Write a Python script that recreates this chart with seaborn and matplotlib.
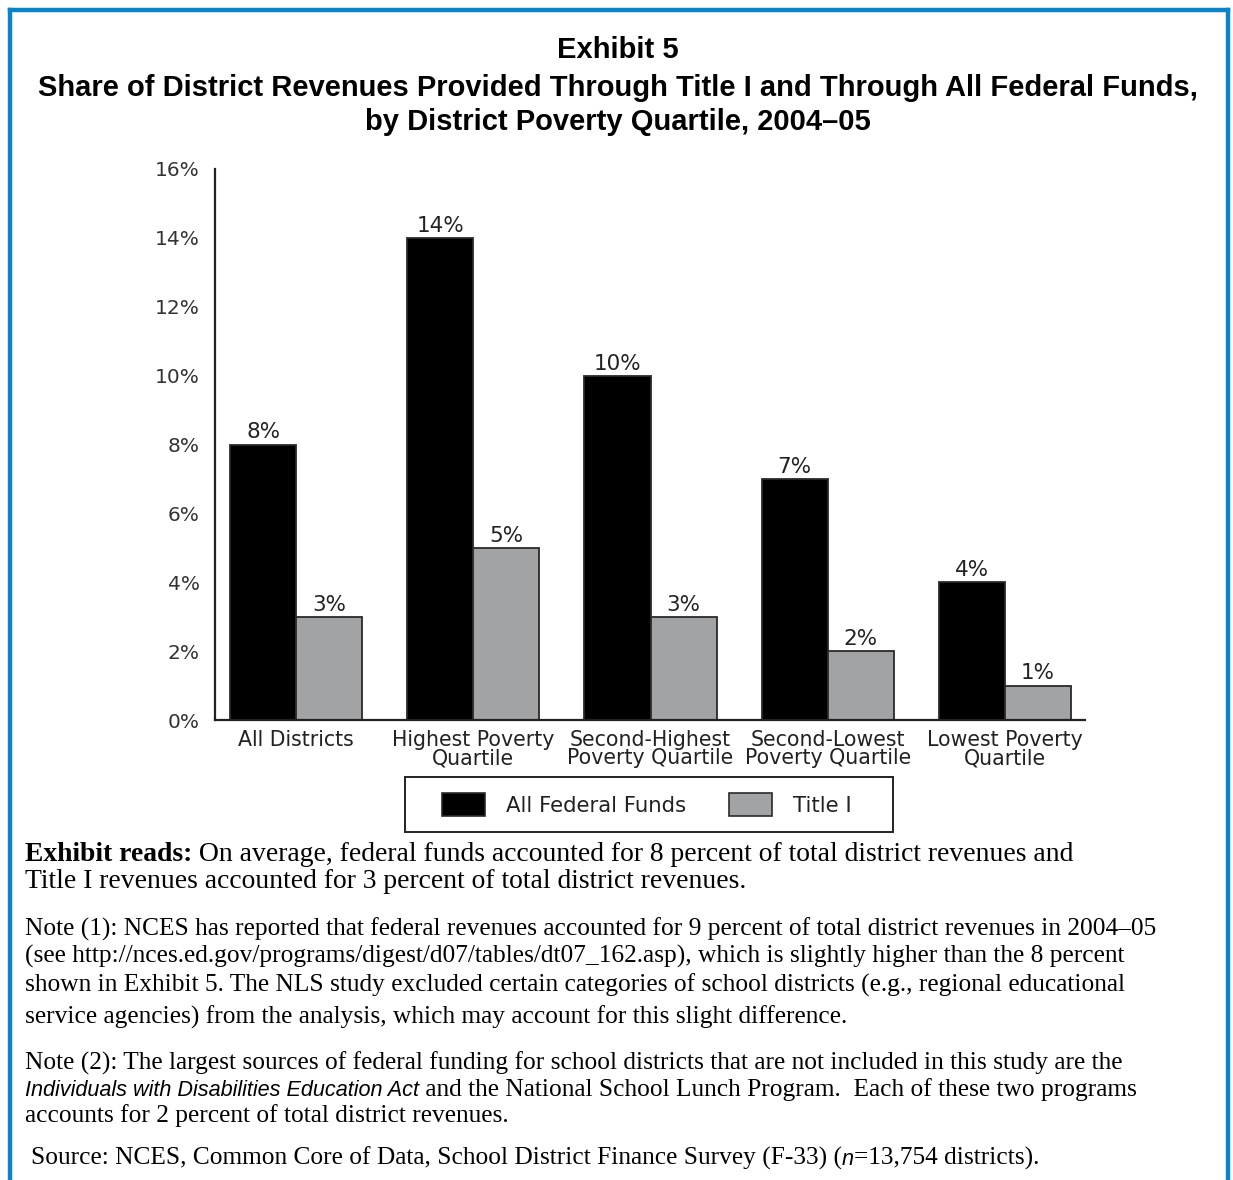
import matplotlib
matplotlib.use("Agg")
import matplotlib.pyplot as plt
import seaborn as sns
import pandas as pd
from matplotlib.patches import Patch, Rectangle
from matplotlib.lines import Line2D

# ---------------- data ----------------
categories = ["All Districts", "Highest Poverty\nQuartile", "Second-Highest\nPoverty Quartile",
              "Second-Lowest\nPoverty Quartile", "Lowest Poverty\nQuartile"]
series_names = ["All Federal Funds", "Title I"]
all_federal = [8, 14, 10, 7, 4]
title_one = [3, 5, 3, 2, 1]
y_ticks = [0, 2, 4, 6, 8, 10, 12, 14, 16]
y_tick_labels = ["0%", "2%", "4%", "6%", "8%", "10%", "12%", "14%", "16%"]

df = pd.DataFrame({
    "category": categories * 2,
    "series": [series_names[0]] * 5 + [series_names[1]] * 5,
    "value": all_federal + title_one,
})

W, H = 1233, 1180
sns.set_theme(style="white")
plt.rcParams["font.family"] = ["DejaVu Sans"]

fig = plt.figure(figsize=(W / 100, H / 100), dpi=100)
fig.patch.set_facecolor("white")

BLACK = "#000000"
GRAY = "#a2a3a5"
ax = fig.add_axes([215 / W, 1 - 720 / H, (1085 - 215) / W, (720 - 169) / H])
sns.barplot(data=df, x="category", y="value", hue="series", palette=[BLACK, GRAY],
            width=0.746, edgecolor="#2a2a2a", linewidth=1.3, legend=False, ax=ax,
            saturation=1)
ax.set_xlim(-0.458, 4.452)
ax.set_ylim(0, 16)
ax.set_yticks(y_ticks)
ax.set_yticklabels(y_tick_labels)
ax.set_xlabel("")
ax.set_ylabel("")
for s in ["top", "right"]:
    ax.spines[s].set_visible(False)
for s in ["left", "bottom"]:
    ax.spines[s].set_color("#222222")
    ax.spines[s].set_linewidth(1.6)
ax.tick_params(axis="y", length=0, pad=11, labelsize=14.5, labelcolor="#333333")
ax.tick_params(axis="x", length=0, pad=7, labelsize=14.8, labelcolor="#222222")
for lab in ax.get_xticklabels():
    lab.set_linespacing(0.92)
ax.grid(False)

for cont in ax.containers:
    ax.bar_label(cont, fmt="%d%%", padding=1.5, fontsize=15.5, color="#222222")

# legend
fig.add_artist(Rectangle((405 / W, 1 - 832 / H), (893 - 405) / W, (832 - 777) / H,
                         transform=fig.transFigure, fill=False, edgecolor="#222222",
                         linewidth=1.4))
handles = [Patch(facecolor=BLACK, edgecolor="#2a2a2a", linewidth=1.2),
           Patch(facecolor=GRAY, edgecolor="#2a2a2a", linewidth=1.2)]
fig.legend(handles, series_names, loc="center left", bbox_to_anchor=(442 / W, 1 - 804.5 / H),
           ncol=2, frameon=False, borderpad=0, borderaxespad=0, handlelength=2.0,
           handleheight=1.25, handletextpad=1.0, columnspacing=2.05, fontsize=15.3,
           labelcolor="#222222")

# title
title_kw = dict(family="Liberation Sans", weight="bold", fontsize=21, ha="center",
                va="baseline", color="black")
fig.text(618 / W, 1 - 58 / H, "Exhibit 5", **title_kw)
fig.text(618 / W, 1 - 95.5 / H,
         "Share of District Revenues Provided Through Title I and Through All Federal Funds,",
         **title_kw)
fig.text(618 / W, 1 - 130.5 / H, "by District Poverty Quartile, 2004–05", **title_kw)

# frame
BLUE = "#0a84c8"
for (x0, y0, x1, y1) in [(10, 10, 1228, 10), (10, 10, 10, 1180), (1228, 10, 1228, 1180)]:
    fig.add_artist(Line2D([x0 / W, x1 / W], [1 - y0 / H, 1 - y1 / H], transform=fig.transFigure,
                          color=BLUE, linewidth=3.2, solid_capstyle="projecting"))

# body text runs
fig.canvas.draw()
renderer = fig.canvas.get_renderer()


def text_width(s, props):
    t = fig.text(0, 0, "|" + s + "|", **props)
    w1 = t.get_window_extent(renderer).width
    t.remove()
    t = fig.text(0, 0, "||", **props)
    w0 = t.get_window_extent(renderer).width
    t.remove()
    return w1 - w0


def runs(x_px, base_px, parts):
    x = x_px
    for s, props in parts:
        fig.text(x / W, 1 - base_px / H, s, va="baseline", ha="left", color="black", **props)
        x += text_width(s, props)


SERIF = dict(family="Liberation Serif", fontsize=19.9)
SERIF_B = dict(family="Liberation Serif", fontsize=19.9, weight="bold")
NOTE = dict(family="Liberation Serif", fontsize=18.3)
NOTE_I = dict(family="Liberation Sans", fontsize=15.6, style="italic")

runs(25, 861, [("Exhibit reads:", SERIF_B),
               (" On average, federal funds accounted for 8 percent of total district revenues and", SERIF)])
runs(25, 888, [("Title I revenues accounted for 3 percent of total district revenues.", SERIF)])

runs(25, 936, [("Note (1): NCES has reported that federal revenues accounted for 9 percent of total district revenues in 2004–05", NOTE)])
runs(25, 963, [("(see http://nces.ed.gov/programs/digest/d07/tables/dt07_162.asp), which is slightly higher than the 8 percent", NOTE)])
runs(25, 992, [("shown in Exhibit 5. The NLS study excluded certain categories of school districts (e.g., regional educational", NOTE)])
runs(25, 1024, [("service agencies) from the analysis, which may account for this slight difference.", NOTE)])

runs(25, 1070, [("Note (2): The largest sources of federal funding for school districts that are not included in this study are the", NOTE)])
runs(25, 1096, [("Individuals with Disabilities Education Act", NOTE_I),
                (" and the National School Lunch Program.  Each of these two programs", NOTE)])
runs(25, 1122, [("accounts for 2 percent of total district revenues.", NOTE)])

runs(31, 1165, [("Source: NCES, Common Core of Data, School District Finance Survey (F-33) (", NOTE),
                ("n", NOTE_I), ("=13,754 districts).", NOTE)])

fig.savefig("out.png", dpi=100, facecolor="white")
